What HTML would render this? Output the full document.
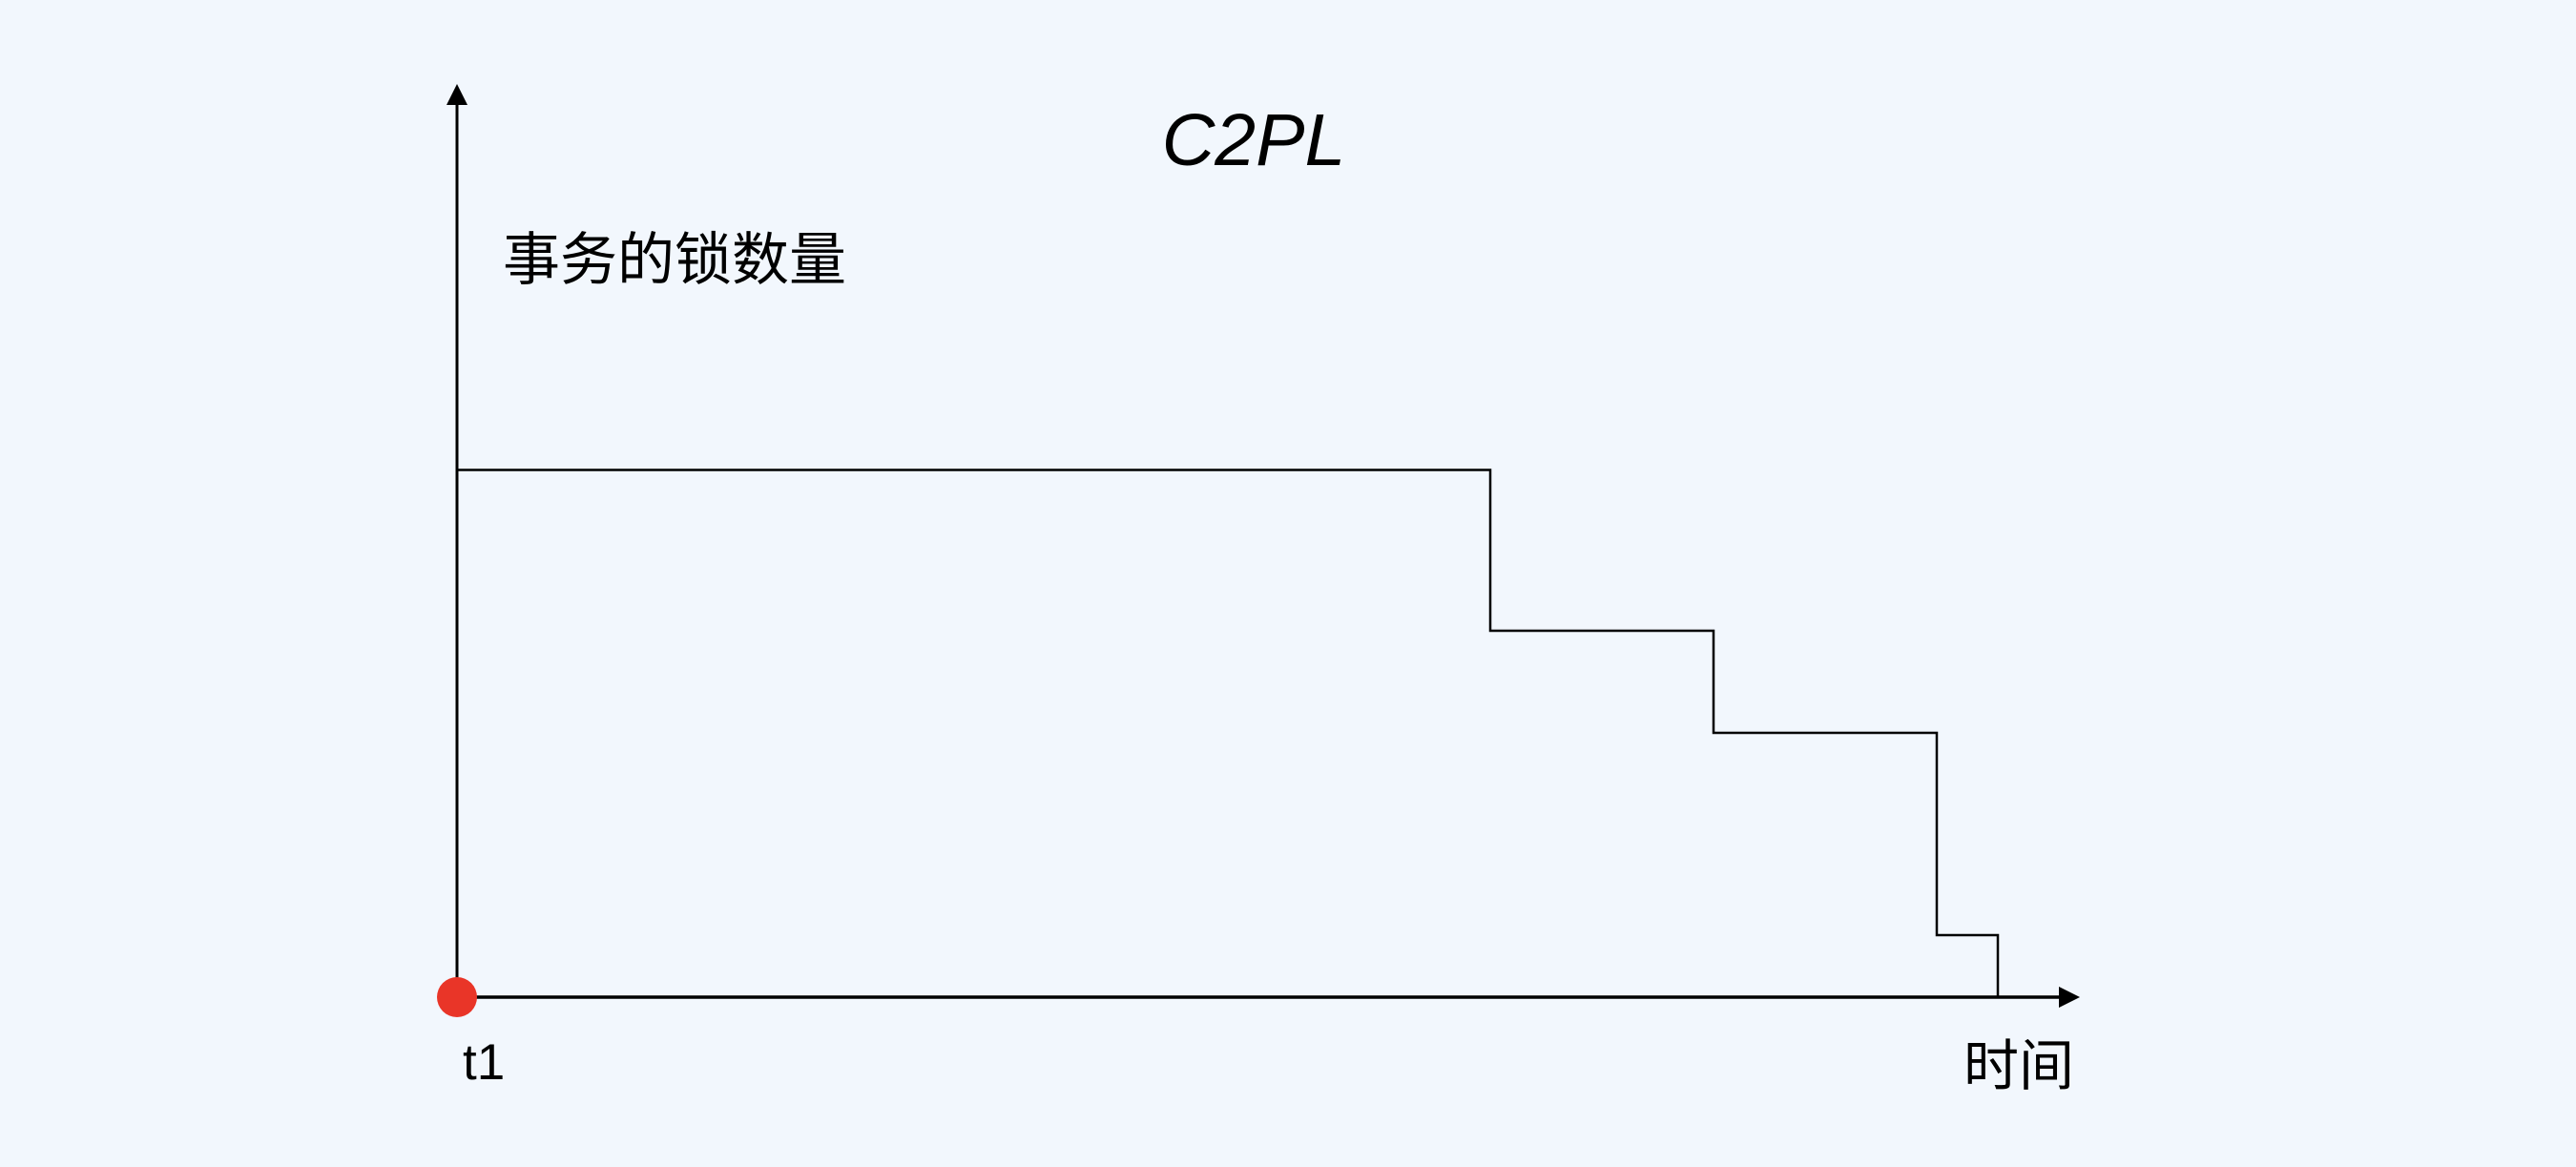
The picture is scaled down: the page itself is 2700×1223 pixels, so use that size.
<!DOCTYPE html>
<html><head><meta charset="utf-8"><style>
html,body{margin:0;padding:0;background:#f2f7fd;}
svg{display:block}
</style></head><body>
<svg width="2700" height="1223" viewBox="0 0 2700 1223" xmlns="http://www.w3.org/2000/svg">
<rect width="2700" height="1223" fill="#f2f7fd"/>
<line x1="479" y1="1045" x2="479" y2="108" stroke="#000" stroke-width="3"/>
<polygon points="479,88 468,110 490,110" fill="#000"/>
<line x1="479" y1="1045" x2="2160" y2="1045" stroke="#000" stroke-width="3.5"/>
<polygon points="2180,1045 2158,1034 2158,1056" fill="#000"/>
<polyline points="479,492.5 1562,492.5 1562,661 1796,661 1796,768 2030,768 2030,980 2094,980 2094,1045" fill="none" stroke="#000" stroke-width="2.5"/>
<circle cx="479" cy="1045" r="21" fill="#e93528"/>
<text x="1314" y="173" text-anchor="middle" font-family="Liberation Sans, sans-serif" font-style="italic" font-size="77">C2PL</text>
<text x="527" y="293" font-family="Liberation Sans, Noto Sans CJK SC, sans-serif" font-size="60">事务的锁数量</text>
<text x="485" y="1131" font-family="Liberation Sans, sans-serif" font-size="53">t1</text>
<text x="2058" y="1137" font-family="Liberation Sans, Noto Sans CJK SC, sans-serif" font-size="58">时间</text>
</svg>
</body></html>
